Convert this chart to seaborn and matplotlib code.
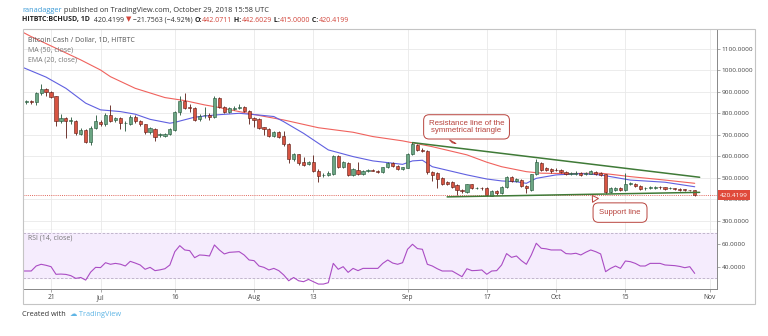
import numpy as np
import pandas as pd
import matplotlib
matplotlib.use("Agg")
import matplotlib.pyplot as plt
import matplotlib.transforms as mtransforms
from matplotlib.patches import Rectangle
import seaborn as sns

# ---------------- data ----------------
candle_start = "2018-06-16"
opens = [852, 856, 851, 893, 912, 900, 880, 766, 780, 764, 765, 704, 723, 666, 731,
         761, 749, 792, 769, 777, 754, 749, 785, 763, 749, 712, 727, 699, 696, 703, 723,
         805, 857, 828, 823, 772, 790, 792, 785, 870, 831, 808, 822, 823, 831, 812,
         777, 774, 735, 726, 696, 712, 695, 658, 588, 610, 573, 565, 573, 534, 512, 514,
         517, 603, 552, 571, 514, 536, 518, 534, 537, 534, 526, 549, 568, 557, 540,
         548, 611, 653, 628, 625, 526, 522, 498, 479, 479, 467, 444, 433, 470, 452, 453,
         452, 418, 441, 429, 457, 506, 485, 490, 462, 444, 517, 571, 545, 540,
         537, 537, 529, 518, 517, 522, 519, 520, 529, 524, 517, 436, 444, 455, 444, 472,
         473, 464, 451, 452, 455, 457, 456, 451, 450, 449, 447, 442.5, 442.0711]
highs = [862, 862, 900, 935, 918, 905, 882, 795, 785, 785, 770, 730, 726, 740, 790,
         768, 800, 839, 785, 782, 765, 792, 790, 768, 752, 738, 732, 710, 710, 732, 812,
         880, 893, 845, 828, 795, 830, 800, 880, 875, 835, 830, 832, 842, 836, 815,
         782, 778, 738, 730, 716, 718, 720, 660, 616, 612, 598, 578, 606, 540, 525, 530,
         608, 606, 578, 574, 545, 573, 538, 542, 542, 538, 552, 572, 572, 560, 552,
         614, 668, 658, 640, 628, 530, 528, 502, 484, 484, 470, 448, 474, 473, 458, 456,
         456, 445, 446, 462, 510, 510, 498, 493, 465, 520, 587, 574, 550, 545,
         545, 542, 533, 526, 530, 526, 526, 536, 533, 528, 520, 456, 458, 460, 521, 480,
         477, 468, 458, 462, 464, 462, 459, 458, 453, 452, 450, 446, 442.6029]
lows = [845, 845, 840, 885, 880, 870, 741, 755, 687, 750, 700, 698, 662, 655, 725,
        740, 740, 760, 760, 725, 720, 745, 755, 742, 705, 705, 672, 690, 692, 700, 720,
        790, 820, 805, 765, 765, 780, 770, 780, 825, 800, 800, 815, 818, 805, 750,
        738, 725, 700, 690, 690, 684, 650, 568, 580, 560, 555, 560, 528, 480, 505, 508,
        512, 548, 545, 510, 510, 512, 514, 528, 530, 522, 522, 545, 550, 535, 537,
        545, 605, 625, 620, 520, 485, 452, 468, 468, 455, 420, 432, 430, 448, 448, 446,
        415, 415, 420, 426, 455, 480, 480, 460, 430, 440, 512, 530, 530, 525,
        530, 524, 512, 514, 514, 510, 514, 517, 515, 510, 425, 430, 440, 440, 440, 466,
        460, 446, 446, 448, 450, 450, 445, 447, 444, 440, 440, 438, 415.0]
closes = [856, 852, 893, 912, 898, 877, 766, 780, 762, 767, 707, 723, 668, 731, 765,
          749, 792, 766, 780, 754, 756, 785, 763, 750, 712, 731, 689, 700, 703, 727, 805,
          857, 826, 824, 769, 787, 793, 782, 873, 831, 805, 823, 824, 831, 812, 777,
          769, 731, 726, 696, 712, 689, 656, 588, 610, 568, 560, 573, 532, 511, 515, 523,
          603, 552, 573, 514, 540, 517, 534, 537, 534, 527, 549, 568, 554, 540, 549,
          610, 658, 630, 625, 526, 514, 495, 472, 472, 460, 444, 437, 470, 452, 453, 451,
          420, 441, 430, 459, 506, 484, 494, 464, 452, 517, 573, 538, 538, 532,
          536, 529, 517, 520, 525, 514, 521, 532, 519, 514, 433, 452, 455, 444, 470, 473,
          464, 450, 452, 459, 457, 456, 449, 452, 448, 444, 443, 442.0711, 420.4199]

ma50_dates = ["2018-06-15", "2018-06-17", "2018-06-27", "2018-07-01", "2018-07-03",
              "2018-07-08", "2018-07-14", "2018-07-18", "2018-07-22", "2018-07-24",
              "2018-07-29", "2018-08-02", "2018-08-07", "2018-08-14", "2018-08-21",
              "2018-08-25", "2018-08-31", "2018-09-06", "2018-09-13", "2018-09-17",
              "2018-09-20", "2018-09-25", "2018-09-28", "2018-10-03", "2018-10-10",
              "2018-10-12", "2018-10-16", "2018-10-23", "2018-10-29"]
ma50_values = [1180, 1156, 1048, 1001, 970, 916, 873, 859, 839, 831, 808, 790, 769,
               733, 712, 692, 672, 645, 607, 573, 552, 529, 522, 520, 522, 517, 506,
               490, 475]

ema20_dates = ["2018-06-15", "2018-06-20", "2018-06-24", "2018-06-28", "2018-07-01",
               "2018-07-05", "2018-07-08", "2018-07-11", "2018-07-15", "2018-07-16",
               "2018-07-20", "2018-07-24", "2018-07-29", "2018-08-02", "2018-08-05",
               "2018-08-07", "2018-08-11", "2018-08-16", "2018-08-21", "2018-08-25",
               "2018-08-31", "2018-09-02", "2018-09-04", "2018-09-06", "2018-09-13",
               "2018-09-17", "2018-09-20", "2018-09-23", "2018-09-25", "2018-09-27",
               "2018-10-01", "2018-10-06", "2018-10-10", "2018-10-12", "2018-10-16",
               "2018-10-23", "2018-10-29"]
ema20_values = [1016, 968, 916, 847, 816, 808, 796, 772, 754, 758, 782, 792, 800, 792,
                785, 761, 707, 630, 599, 579, 563, 579, 582, 552, 514, 495, 486, 482,
                475, 498, 514, 520, 514, 506, 490, 480, 459]

rsi_start = "2018-06-15"
rsi_values = [36.5, 36.5, 36.5, 40.9, 42.4, 41.5, 40.3, 33.6, 33.8, 33.5, 32.4, 30.0,
              30.8, 28.5, 35.5, 39.7, 39.5, 43.8, 42.4, 43.2, 42.5, 40.9, 45.0, 43.5,
              41.8, 38.0, 39.7, 36.8, 37.5, 38.5, 41.8, 53.5, 58.8, 55.0, 54.4, 48.2,
              50.6, 50.3, 49.7, 59.4, 55.0, 51.5, 52.9, 53.2, 53.5, 50.6, 46.2, 45.6,
              40.9, 39.7, 37.4, 38.8, 36.8, 33.0, 27.9, 30.8, 27.9, 27.1, 29.1, 27.1,
              25.0, 25.0, 26.2, 43.2, 38.0, 40.3, 35.3, 38.8, 36.8, 38.8, 38.8, 38.8,
              38.8, 43.2, 46.2, 43.5, 42.4, 43.8, 55.6, 60.0, 56.2, 55.6, 42.4, 40.9,
              38.5, 36.5, 36.5, 36.5, 34.0, 31.5, 38.5, 36.8, 37.0, 37.4, 33.6, 36.5,
              36.8, 41.8, 51.8, 48.5, 49.7, 45.6, 42.4, 50.6, 60.9, 56.5, 56.0, 55.0,
              55.0, 55.0, 51.8, 51.5, 52.1, 50.6, 53.0, 55.0, 53.5, 51.5, 35.9, 38.8,
              40.9, 38.8, 45.3, 44.7, 43.2, 40.9, 40.9, 43.2, 43.2, 43.2, 41.8, 41.5,
              41.2, 40.5, 39.4, 40.3, 34.4]

resistance_dates = ["2018-09-02", "2018-10-30"]
resistance_values = [664, 503]
support_dates = ["2018-09-09", "2018-10-30"]
support_values = [412, 433]

last_price = 420.4199
price_ticks = [300, 400, 500, 600, 700, 800, 900, 1000, 1100]
rsi_ticks = [40, 60]
date_ticks = ["2018-06-21", "2018-07-01", "2018-07-16", "2018-08-01", "2018-08-13",
              "2018-09-01", "2018-09-17", "2018-10-01", "2018-10-15", "2018-11-01"]
date_labels = ["21", "Jul", "16", "Aug", "13", "Sep", "17", "Oct", "15", "Nov"]

# ---------------- style ----------------
sns.set_theme(style="white")
plt.rcParams['font.family'] = ['Open Sans', 'DejaVu Sans']

W, H = 768, 336
fig = plt.figure(figsize=(W / 100, H / 100), dpi=100)
fig.patch.set_facecolor("white")

def fx(px):
    return px / W

def fy(py):
    return 1 - py / H

left_px, right_px = 22.7, 717
top_px, mid_px, bot_px = 29.3, 229.5, 289.3
ax = fig.add_axes([fx(left_px), fy(mid_px), fx(right_px) - fx(left_px), fy(top_px) - fy(mid_px)])
rax = fig.add_axes([fx(left_px), fy(bot_px), fx(right_px) - fx(left_px), fy(mid_px) - fy(bot_px)], sharex=ax)

xmin = pd.Timestamp("2018-06-15 06:40")
xmax = pd.Timestamp("2018-11-02 12:00")

# ---------------- price pane ----------------
o = np.array(opens, float); h = np.array(highs, float)
l = np.array(lows, float); c = np.array(closes, float)
dates = pd.date_range(candle_start, periods=len(o), freq="D")
up = c >= o
up_fc, up_ec = "#6BA583", "#225437"
dn_fc, dn_ec = "#D75442", "#5B1A13"

grid_c = "#e9e9e9"
for t in price_ticks:
    ax.axhline(t, color=grid_c, lw=0.6, zorder=0)
for d in date_ticks:
    ax.axvline(pd.Timestamp(d), color=grid_c, lw=0.6, zorder=0)
    rax.axvline(pd.Timestamp(d), color=grid_c, lw=0.6, zorder=0)

ax.axhline(last_price, color="#e0675c", lw=0.7, ls=(0, (1, 1.2)), zorder=1)

sns.lineplot(x=pd.to_datetime(ma50_dates), y=ma50_values, ax=ax, color="#f0625d", lw=0.8, zorder=2)
sns.lineplot(x=pd.to_datetime(ema20_dates), y=ema20_values, ax=ax, color="#6060e0", lw=0.8, zorder=2)

wick_cols = np.where(up, up_ec, dn_ec)
ax.vlines(dates, l, h, colors=wick_cols, lw=0.6, zorder=3)
body_bottom = np.minimum(o, c)
body_h = np.maximum(np.abs(c - o), 3.0)
ax.bar(dates, body_h, bottom=body_bottom, width=0.64,
       color=np.where(up, up_fc, dn_fc), edgecolor=np.where(up, up_ec, dn_ec),
       linewidth=0.4, zorder=4)

line_green = "#3f7a37"
sns.lineplot(x=pd.to_datetime(resistance_dates), y=resistance_values, ax=ax, color=line_green, lw=1.1, zorder=5)
sns.lineplot(x=pd.to_datetime(support_dates), y=support_values, ax=ax, color=line_green, lw=1.1, zorder=5)

call_c = "#b8433d"
ax.annotate("Resistance line of the\nsymmetrical triangle",
            xy=(pd.Timestamp("2018-09-09 18:00"), 652), xytext=(pd.Timestamp("2018-09-12 22:00"), 737),
            ha="center", va="center", fontsize=5.7, color=call_c, family=["Liberation Sans", "DejaVu Sans"],
            linespacing=1.0,
            bbox=dict(boxstyle="round,pad=0.65,rounding_size=0.7", fc="white", ec=call_c, lw=0.7),
            arrowprops=dict(arrowstyle="wedge,tail_width=0.9,shrink_factor=0.5", fc="white", ec=call_c,
                            lw=0.7, relpos=(0.38, 0.0)),
            zorder=8)
ax.annotate("Support line",
            xy=(pd.Timestamp("2018-10-08"), 429), xytext=(pd.Timestamp("2018-10-13 22:00"), 339),
            ha="center", va="center", fontsize=5.6, color=call_c, family=["Liberation Sans", "DejaVu Sans"],
            bbox=dict(boxstyle="round,pad=0.8,rounding_size=0.7", fc="white", ec=call_c, lw=0.7),
            arrowprops=dict(arrowstyle="wedge,tail_width=0.9,shrink_factor=0.5", fc="white", ec=call_c,
                            lw=0.7, relpos=(0.06, 0.9)),
            zorder=8)

ax.set_xlim(xmin, xmax)
ax.set_ylim(260.5, 1190)
ax.yaxis.tick_right()
ax.set_yticks(price_ticks)
ax.set_yticklabels([f"{t:.4f}" for t in price_ticks])
ax.tick_params(axis="y", right=True, length=2, width=0.5, pad=1.5, labelsize=4.6,
               labelcolor="#444444", color="#888888")
ax.tick_params(axis="x", bottom=False, labelbottom=False)
ax.set_xlabel(""); ax.set_ylabel("")
for s in ["top", "left"]:
    ax.spines[s].set_visible(False)
ax.spines["right"].set_color("#888888"); ax.spines["right"].set_linewidth(0.7)
ax.spines["bottom"].set_color("#999999"); ax.spines["bottom"].set_linewidth(0.8)

trans = mtransforms.blended_transform_factory(ax.transAxes, ax.transData)
ax.text(1.004, last_price, f"{last_price:.4f}", transform=trans, ha="left", va="center",
        fontsize=4.6, color="white", zorder=10, clip_on=False,
        bbox=dict(boxstyle="square,pad=0.35", fc="#e0493b", ec="none"))

# legend text
ax.text(0.008, 0.945, "Bitcoin Cash / Dollar, 1D, HITBTC", transform=ax.transAxes, fontsize=5,
        color="#555555", va="center", zorder=9)
ax.text(0.008, 0.895, "MA (50, close)", transform=ax.transAxes, fontsize=5, color="#777777",
        va="center", zorder=9)
ax.text(0.008, 0.845, "EMA (20, close)", transform=ax.transAxes, fontsize=5, color="#777777",
        va="center", zorder=9)

# ---------------- RSI pane ----------------
rsi_dates = pd.date_range(rsi_start, periods=len(rsi_values), freq="D")
rax.axhspan(30, 70, color="#f5ecfd", zorder=0)
rax.axhline(70, color="#b9adc4", lw=0.6, ls=(0, (3, 2)), zorder=1)
rax.axhline(30, color="#b9adc4", lw=0.6, ls=(0, (3, 2)), zorder=1)
sns.lineplot(x=rsi_dates, y=rsi_values, ax=rax, color="#aa4cc4", lw=0.8, zorder=3)
rax.set_ylim(20.4, 73.0)
rax.set_xlim(xmin, xmax)
rax.yaxis.tick_right()
rax.set_yticks(rsi_ticks)
rax.set_yticklabels([f"{t:.4f}" for t in rsi_ticks])
rax.tick_params(axis="y", right=True, length=2, width=0.5, pad=1.5, labelsize=4.6,
                labelcolor="#444444", color="#888888")
rax.set_xticks([pd.Timestamp(d) for d in date_ticks])
rax.set_xticklabels(date_labels)
rax.tick_params(axis="x", bottom=True, length=2, width=0.5, pad=1.5, labelsize=4.8,
                labelcolor="#444444", color="#888888")
rax.set_xlabel(""); rax.set_ylabel("")
for s in ["top", "left"]:
    rax.spines[s].set_visible(False)
for s in ["right", "bottom"]:
    rax.spines[s].set_color("#888888"); rax.spines[s].set_linewidth(0.7)
rax.text(0.008, 0.86, "RSI (14, close)", transform=rax.transAxes, fontsize=5, color="#777777",
         va="center", zorder=9)

# outer frame
fig.add_artist(Rectangle((fx(22.7), fy(304)), fx(755) - fx(22.7), fy(29.3) - fy(304),
                         transform=fig.transFigure, fill=False, ec="#c4c4c4", lw=0.8))

# ---------------- header / footer ----------------
fig.canvas.draw()
renderer = fig.canvas.get_renderer()

def rich(x, y, parts, size):
    for s, color, weight in parts:
        t = fig.text(fx(x), fy(y), s, color=color, fontsize=size, fontweight=weight,
                     va="center", ha="left")
        bb = t.get_window_extent(renderer)
        x += bb.width

rich(22, 10, [("ranadagger", "#3d9bd6", "normal"),
              (" published on TradingView.com, October 29, 2018 15:58 UTC", "#333333", "normal")], 5.3)
red = "#d2453b"
rich(22, 20, [("HITBTC:BCHUSD, 1D", "#222222", "bold"), ("  420.4199 ", "#333333", "normal"),
              ("▼", red, "normal"), (" −21.7563 (−4.92%) ", "#333333", "normal"),
              ("O:", "#222222", "bold"), ("442.0711", red, "normal"), (" H:", "#222222", "bold"),
              ("442.6029", red, "normal"), (" L:", "#222222", "bold"), ("415.0000", red, "normal"),
              (" C:", "#222222", "bold"), ("420.4199", red, "normal")], 5.0)
rich(22, 315, [("Created with  ", "#333333", "normal"), ("☁", "#5fb5e5", "normal"),
               (" TradingView", "#5fb5e5", "normal")], 5.3)

fig.savefig("out.png", dpi=100, facecolor="white")
